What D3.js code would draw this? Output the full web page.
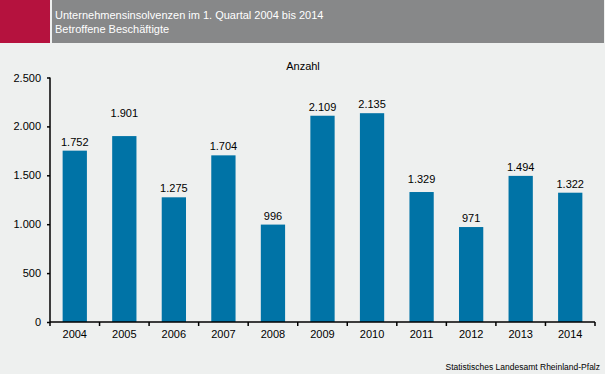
<!DOCTYPE html>
<html><head><meta charset="utf-8">
<script src="https://cdn.jsdelivr.net/npm/d3@7"></script>
<style>body{margin:0;background:#eef0ef;}svg{display:block;}</style>
</head><body><svg id="c" width="605" height="374"></svg>
<script>
const years = ["2004","2005","2006","2007","2008","2009","2010","2011","2012","2013","2014"];
const values = [1752,1901,1275,1704,996,2109,2135,1329,971,1494,1322];
const yTicks = [0,500,1000,1500,2000,2500];
const titleLines = ["Unternehmensinsolvenzen im 1. Quartal 2004 bis 2014","Betroffene Beschäftigte"];
const unitLabel = "Anzahl";
const sourceLabel = "Statistisches Landesamt Rheinland-Pfalz";

const svg = d3.select("#c");
const W=605,H=374;
const fmt = d3.formatLocale({decimal:",",thousands:".",grouping:[3],currency:["","€"]}).format(",d");
const font = "'Liberation Sans', Arial, sans-serif";
// manual nudges of some value labels, as in the original
const labelLift = {"2005":14,"2011":4};

svg.append("rect").attr("width",W).attr("height",H).attr("fill","#eef0ef");
svg.append("rect").attr("x",0).attr("y",0).attr("width",50).attr("height",43).attr("fill","#b5123e");
svg.append("rect").attr("x",52).attr("y",0).attr("width",552).attr("height",43).attr("fill","#878889");
svg.selectAll("text.title").data(titleLines).join("text")
  .attr("x",55).attr("y",(d,i)=>19+i*14).attr("fill","#fff")
  .attr("font-family",font).attr("font-size",11).text(d=>d);

const m={l:50,r:595,t:77.5,b:322};
const x=d3.scaleBand().domain(years).range([m.l,m.r]).paddingInner(0.51).paddingOuter(0.255);
const y=d3.scaleLinear().domain([0,2500]).range([m.b,m.t]);

svg.append("text").attr("x",303).attr("y",70).attr("text-anchor","middle")
  .attr("font-family",font).attr("font-size",11).attr("fill","#000").text(unitLabel);

svg.selectAll("rect.bar").data(values).join("rect").attr("class","bar")
  .attr("x",(d,i)=>x(years[i])).attr("width",x.bandwidth())
  .attr("y",d=>y(d)).attr("height",d=>y(0)-y(d)).attr("fill","#0073a6");

svg.selectAll("text.val").data(values).join("text").attr("class","val")
  .attr("x",(d,i)=>x(years[i])+x.bandwidth()/2).attr("y",(d,i)=>y(d)-5-(labelLift[years[i]]||0))
  .attr("text-anchor","middle").attr("font-family",font).attr("font-size",11).attr("fill","#000")
  .text(d=>fmt(d));

const yAxis = svg.append("g").attr("transform",`translate(${m.l},0)`)
  .call(d3.axisLeft(y).tickValues(yTicks).tickSize(3).tickPadding(6).tickFormat(fmt));
yAxis.select(".domain").attr("d",`M0,${m.t}V${m.b}`).attr("stroke","#000").attr("stroke-width",1.5);
yAxis.selectAll(".tick line").attr("stroke","#000").attr("stroke-width",1.5);
yAxis.selectAll("text").attr("font-family",font).attr("font-size",11).attr("fill","#000");

const xb = d3.scaleLinear().domain([0,years.length]).range([m.l,m.r]);
const xg = svg.append("g").attr("transform",`translate(0,${m.b})`);
xg.append("line").attr("x1",m.l).attr("x2",m.r).attr("stroke","#000").attr("stroke-width",1.5);
xg.selectAll("line.t").data(d3.range(years.length+1)).join("line").attr("class","t")
  .attr("x1",d=>xb(d)).attr("x2",d=>xb(d)).attr("y1",0).attr("y2",4).attr("stroke","#000").attr("stroke-width",1.5);
xg.selectAll("text").data(years).join("text")
  .attr("x",d=>x(d)+x.bandwidth()/2).attr("y",16).attr("text-anchor","middle")
  .attr("font-family",font).attr("font-size",11).attr("fill","#000").text(d=>d);

svg.append("text").attr("x",600).attr("y",370).attr("text-anchor","end")
  .attr("font-family",font).attr("font-size",8.5).attr("fill","#000").text(sourceLabel);
</script></body></html>
